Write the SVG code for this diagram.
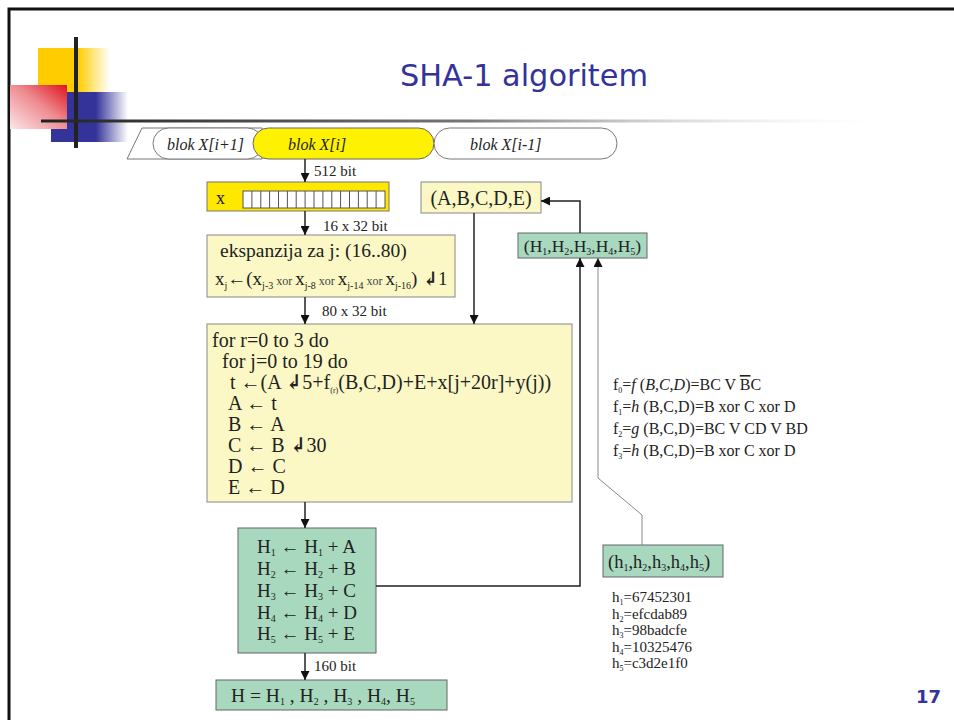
<svg xmlns="http://www.w3.org/2000/svg" width="954" height="720" viewBox="0 0 954 720">
<defs>
<linearGradient id="gY" x1="0" y1="0" x2="1" y2="0"><stop offset="0" stop-color="#FFCC00"/><stop offset="0.55" stop-color="#FFCC00"/><stop offset="1" stop-color="#FFCC00" stop-opacity="0"/></linearGradient>
<linearGradient id="gB" x1="0" y1="0" x2="1" y2="0"><stop offset="0" stop-color="#333399"/><stop offset="0.58" stop-color="#333399"/><stop offset="1" stop-color="#333399" stop-opacity="0"/></linearGradient>
<linearGradient id="gR" x1="1" y1="0" x2="0" y2="1"><stop offset="0" stop-color="#E0141E"/><stop offset="0.45" stop-color="#EE8A90"/><stop offset="1" stop-color="#FBE6E8"/></linearGradient>
<linearGradient id="gL" x1="0" y1="0" x2="1" y2="0"><stop offset="0" stop-color="#222"/><stop offset="0.5" stop-color="#777"/><stop offset="1" stop-color="#fff" stop-opacity="0"/></linearGradient>
<marker id="ah" viewBox="0 0 10 10" refX="10" refY="5" markerWidth="9" markerHeight="9" markerUnits="userSpaceOnUse" orient="auto"><path d="M0,0 L10,5 L0,10 z" fill="#111"/></marker>
<marker id="ahg" viewBox="0 0 10 10" refX="10" refY="5" markerWidth="9" markerHeight="9" markerUnits="userSpaceOnUse" orient="auto"><path d="M0,0 L10,5 L0,10 z" fill="#111"/></marker>
</defs>
<style>
.s{font-family:"Liberation Serif","DejaVu Serif",serif;fill:#222}
.i{font-style:italic}
.b{font-weight:bold}
.ly{fill:#FBF8C6;stroke:#888;stroke-width:1}
.gr{fill:#A8D8BE;stroke:#666;stroke-width:1}
.c{fill:none;stroke:#222;stroke-width:1.5}
.cg{fill:none;stroke:#888;stroke-width:1}
.lbl{font-size:15px}
.sub{font-size:10px}
.x{font-size:12px;fill:#444}
</style>
<rect x="0" y="0" width="954" height="720" fill="#fff"/>
<!-- frame -->
<path d="M9,720 L9,9 L954,9" fill="none" stroke="#111" stroke-width="3"/>
<!-- decoration -->
<g id="decoration">
<rect x="38" y="48" width="72" height="44" fill="url(#gY)"/>
<rect x="51" y="92" width="77" height="50" fill="url(#gB)"/>
<rect x="10" y="85" width="57" height="44" fill="url(#gR)"/>
<rect x="74" y="37" width="4" height="111" fill="#222"/>
<rect x="41" y="119.5" width="860" height="3" fill="url(#gL)"/>
</g>
<text x="524" y="86" text-anchor="middle" font-family="DejaVu Sans, Verdana, sans-serif" font-size="30" fill="#333399" textLength="248" lengthAdjust="spacingAndGlyphs">SHA-1 algoritem</text>
<text x="941" y="703" text-anchor="end" font-family="DejaVu Sans, Verdana, sans-serif" font-size="18" font-weight="bold" fill="#333399">17</text>

<!-- block row -->
<g id="blocks">
<polygon points="142,128 262,128 262,159 127,159" fill="#fff" stroke="#777" stroke-width="1"/>
<rect x="153" y="128" width="110" height="31" rx="15.5" fill="#fff" stroke="#777" stroke-width="1"/>
<text class="s i" x="167" y="150" font-size="16">blok  X[i+1]</text>
</g>
<g id="blok_i">
<rect x="253" y="128" width="181" height="31" rx="15.5" fill="#FFF200" stroke="#666" stroke-width="1"/>
<text class="s i" x="288" y="150" font-size="16">blok X[i]</text>
</g>
<g id="blok_im1">
<rect x="434" y="128" width="183" height="31" rx="15.5" fill="#fff" stroke="#777" stroke-width="1"/>
<text class="s i" x="470" y="150" font-size="16">blok X[i-1]</text>
</g>

<!-- x box -->
<g id="xbox">
<rect x="207" y="182" width="182" height="29" fill="#FFE800" stroke="#777" stroke-width="1"/>
<text class="s" x="216" y="204" font-size="18">x</text>
<rect x="243" y="191" width="142" height="17" fill="#fff" stroke="#555" stroke-width="1"/>
<path d="M251.9,191V208M260.8,191V208M269.6,191V208M278.5,191V208M287.4,191V208M296.2,191V208M305.1,191V208M314,191V208M322.9,191V208M331.8,191V208M340.6,191V208M349.5,191V208M358.4,191V208M367.2,191V208M376.1,191V208" stroke="#555" stroke-width="1"/>
</g>

<!-- expansion -->
<g id="expansion">
<rect class="ly" x="207" y="235" width="248" height="62"/>
<text class="s" x="220" y="257" font-size="19.5">ekspanzija za j: (16..80)</text>
<text class="s" x="215" y="285" font-size="19">x<tspan class="sub" baseline-shift="-4">j</tspan><tspan class="b">←</tspan>(x<tspan class="sub" baseline-shift="-4">j-3</tspan><tspan class="x"> xor  </tspan>x<tspan class="sub" baseline-shift="-4">j-8</tspan><tspan class="x"> xor </tspan>x<tspan class="sub" baseline-shift="-4">j-14</tspan><tspan class="x"> xor </tspan>x<tspan class="sub" baseline-shift="-4">j-16</tspan>) <tspan class="b">↲</tspan>1</text>
</g>

<!-- ABCDE -->
<g id="abcde">
<rect class="ly" x="421" y="182" width="120" height="31"/>
<text class="s" x="481" y="205" font-size="20" text-anchor="middle">(A,B,C,D,E)</text>
</g>

<!-- H1..H5 state -->
<g id="hstate">
<rect class="gr" x="518" y="233" width="129" height="25"/>
<text class="s" x="582.5" y="252" font-size="17.5" text-anchor="middle">(H<tspan class="sub" baseline-shift="-3">1</tspan>,H<tspan class="sub" baseline-shift="-3">2</tspan>,H<tspan class="sub" baseline-shift="-3">3</tspan>,H<tspan class="sub" baseline-shift="-3">4</tspan>,H<tspan class="sub" baseline-shift="-3">5</tspan>)</text>
</g>

<!-- loop -->
<g id="loop">
<rect class="ly" x="207" y="324" width="365" height="178"/>
<g class="s" font-size="20">
<text x="212" y="347">for r=0 to 3 do</text>
<text x="222" y="368">for j=0 to 19 do</text>
<text x="230" y="389">t <tspan class="b">←</tspan>(A <tspan class="b">↲</tspan>5+f<tspan font-size="8" baseline-shift="-4">(r)</tspan>(B,C,D)+E+x[j+20r]+y(j))</text>
<text x="228" y="410">A <tspan class="b">←</tspan> t</text>
<text x="228" y="431">B <tspan class="b">←</tspan>  A</text>
<text x="228" y="452">C <tspan class="b">←</tspan> B <tspan class="b">↲</tspan>30</text>
<text x="228" y="473">D <tspan class="b">←</tspan> C</text>
<text x="228" y="494">E <tspan class="b">←</tspan> D</text>
</g>
</g>

<!-- functions -->
<g id="functions" class="s" font-size="16">
<text x="613" y="390">f<tspan font-size="8" baseline-shift="-3">0</tspan>=<tspan class="i">f</tspan> (<tspan class="i">B,C,D</tspan>)=BC V <tspan text-decoration="overline">B</tspan>C</text>
<text x="613" y="412">f<tspan font-size="8" baseline-shift="-3">1</tspan>=<tspan class="i">h</tspan> (B,C,D)=B xor C xor D</text>
<text x="613" y="434">f<tspan font-size="8" baseline-shift="-3">2</tspan>=<tspan class="i">g</tspan> (B,C,D)=BC V CD V BD</text>
<text x="613" y="456">f<tspan font-size="8" baseline-shift="-3">3</tspan>=<tspan class="i">h</tspan> (B,C,D)=B xor C xor D</text>
</g>

<!-- H update -->
<g id="hupdate">
<rect class="gr" x="238" y="528" width="138" height="125"/>
<g class="s" font-size="19">
<text x="257" y="553">H<tspan class="sub" baseline-shift="-3">1</tspan> <tspan class="b">←</tspan> H<tspan class="sub" baseline-shift="-3">1</tspan> + A</text>
<text x="257" y="575">H<tspan class="sub" baseline-shift="-3">2</tspan> <tspan class="b">←</tspan> H<tspan class="sub" baseline-shift="-3">2</tspan> + B</text>
<text x="257" y="597">H<tspan class="sub" baseline-shift="-3">3</tspan> <tspan class="b">←</tspan> H<tspan class="sub" baseline-shift="-3">3</tspan> + C</text>
<text x="257" y="619">H<tspan class="sub" baseline-shift="-3">4</tspan> <tspan class="b">←</tspan> H<tspan class="sub" baseline-shift="-3">4</tspan> + D</text>
<text x="257" y="640">H<tspan class="sub" baseline-shift="-3">5</tspan> <tspan class="b">←</tspan> H<tspan class="sub" baseline-shift="-3">5</tspan> + E</text>
</g>
</g>

<!-- final H -->
<g id="hfinal">
<rect class="gr" x="216" y="680" width="231" height="30"/>
<text class="s" x="231" y="702" font-size="19.5">H = H<tspan class="sub" baseline-shift="-3">1</tspan> , H<tspan class="sub" baseline-shift="-3">2</tspan> , H<tspan class="sub" baseline-shift="-3">3</tspan> , H<tspan class="sub" baseline-shift="-3">4</tspan>, H<tspan class="sub" baseline-shift="-3">5</tspan></text>
</g>

<!-- h init -->
<g id="hinit">
<rect class="gr" x="603" y="545" width="120" height="32"/>
<text class="s" x="608" y="568" font-size="18.5">(h<tspan class="sub" baseline-shift="-3">1</tspan>,h<tspan class="sub" baseline-shift="-3">2</tspan>,h<tspan class="sub" baseline-shift="-3">3</tspan>,h<tspan class="sub" baseline-shift="-3">4</tspan>,h<tspan class="sub" baseline-shift="-3">5</tspan>)</text>
</g>
<g id="hvalues" class="s" font-size="15">
<text x="612" y="602">h<tspan font-size="8" baseline-shift="-3">1</tspan>=67452301</text>
<text x="612" y="619">h<tspan font-size="8" baseline-shift="-3">2</tspan>=efcdab89</text>
<text x="612" y="635">h<tspan font-size="8" baseline-shift="-3">3</tspan>=98badcfe</text>
<text x="612" y="652">h<tspan font-size="8" baseline-shift="-3">4</tspan>=10325476</text>
<text x="612" y="668">h<tspan font-size="8" baseline-shift="-3">5</tspan>=c3d2e1f0</text>
</g>

<!-- connectors -->
<g id="connectors">
<path class="c" d="M305,159 V182" marker-end="url(#ah)"/>
<path class="c" d="M305,211 V235" marker-end="url(#ah)"/>
<path class="c" d="M305,297 V324" marker-end="url(#ah)"/>
<path class="c" d="M474,213 V324" marker-end="url(#ah)"/>
<path class="c" d="M305,502 V528" marker-end="url(#ah)"/>
<path class="c" d="M305,653 V680" marker-end="url(#ah)"/>
<path class="c" d="M376,586 H580 V258" marker-end="url(#ah)"/>
<path class="c" d="M580,233 V201 H541" marker-end="url(#ah)"/>
<path class="cg" d="M642,545 V515 L598,478 V258" marker-end="url(#ahg)"/>
</g>
<g class="s lbl">
<text x="314" y="176">512 bit</text>
<text x="323" y="231">16 x 32 bit</text>
<text x="322" y="316">80 x 32 bit</text>
<text x="314" y="671">160 bit</text>
</g>
</svg>
